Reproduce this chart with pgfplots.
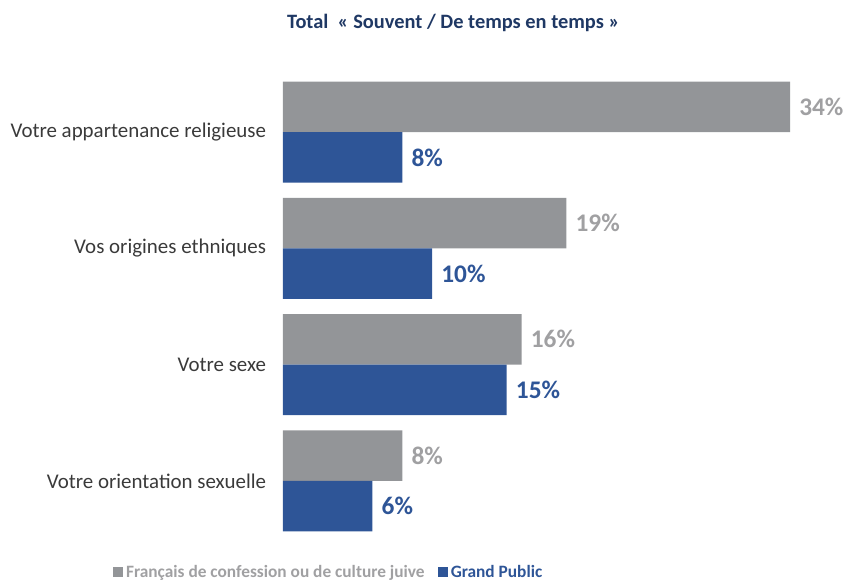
\documentclass[border=0pt]{standalone}
\usepackage{fontspec}
\setmainfont{Carlito}
\usepackage{pgfplots}
\pgfplotsset{compat=1.18}
\definecolor{juif}{HTML}{939598}
\definecolor{juiflab}{HTML}{A0A0A2}
\definecolor{gp}{HTML}{2E5597}
\definecolor{titre}{HTML}{1F3864}
\definecolor{cat}{HTML}{3A3A3A}
\begin{document}
\begin{tikzpicture}
\useasboundingbox (0,0) rectangle (634.5pt,-435.75pt);
\node[font=\fontsize{15.3}{17}\selectfont\bfseries, text=titre] at (340pt,-17.5pt) {Total\ \ « Souvent / De temps en temps »};
\begin{axis}[
    at={(212.25pt,-404.25pt)}, anchor=south west,
    scale only axis, width=380.25pt, height=348.75pt,
    xbar, bar width=37.9pt,
    xmin=0, xmax=34,
    ymin=-0.5, ymax=3.5,
    axis x line=none,
    axis y line*=left,
    y axis line style={draw=none},
    ytick={0,1,2,3},
    yticklabels={Votre orientation sexuelle, Votre sexe, Vos origines ethniques, Votre appartenance religieuse},
    ytick style={draw=none},
    yticklabel style={font=\fontsize{15.7}{17}\selectfont, text=cat, inner sep=0pt, xshift=-8.25pt},
    /pgf/number format/assume math mode=true,
    nodes near coords={\pgfmathprintnumber{\pgfplotspointmeta}\%},
    nodes near coords align={horizontal},
    every node near coord/.append style={font=\fontsize{19}{20}\selectfont\bfseries, inner sep=0pt, xshift=6.75pt},
    legend image code/.code={\fill[#1,draw=none] (0pt,-3.8pt) rectangle (7.6pt,3.8pt);},
    legend style={at={(0.091,-0.071)}, anchor=center, draw=none, fill=none,
        font=\fontsize{13}{14}\selectfont\bfseries, legend columns=2,
        /tikz/every even column/.append style={column sep=8pt},
        /tikz/every odd column/.append style={column sep=0pt}},
]
\addplot[fill=juif, draw=none, bar shift=18.95pt, every node near coord/.append style={text=juiflab}]
    coordinates {(34,3) (19,2) (16,1) (8,0)};
\addlegendentry{\textcolor{juiflab}{Français de confession ou de culture juive}}
\addplot[fill=gp, draw=none, bar shift=-18.95pt, every node near coord/.append style={text=gp}]
    coordinates {(8,3) (10,2) (15,1) (6,0)};
\addlegendentry{\textcolor{gp}{Grand Public}}
\end{axis}
\end{tikzpicture}
\end{document}
